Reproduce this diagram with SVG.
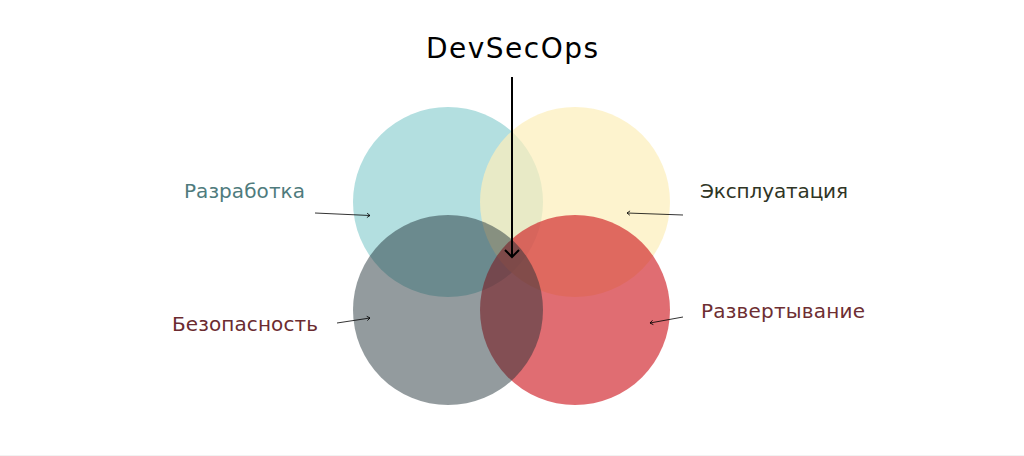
<svg xmlns="http://www.w3.org/2000/svg" width="1024" height="456" viewBox="0 0 1024 456">
<style>
.lbl{font-family:"DejaVu Sans","Liberation Sans",sans-serif;font-size:20px}
.conn{fill:none;stroke:#000;stroke-width:0.8}
.main{fill:none;stroke:#000;stroke-width:2}
</style>
<defs>
<marker id="big" markerUnits="userSpaceOnUse" orient="auto" refX="0" refY="0" markerWidth="20" markerHeight="20" viewBox="-10 -10 20 20" overflow="visible">
<path d="M-7,-7 L0,0 L-7,7" fill="none" stroke="#000" stroke-width="2"/>
</marker>
<marker id="small" markerUnits="userSpaceOnUse" orient="auto" refX="0" refY="0" markerWidth="8" markerHeight="8" viewBox="-4 -4 8 8" overflow="visible">
<path d="M-3,-2.2 L0,0 L-3,2.2" fill="none" stroke="#000" stroke-width="0.8"/>
</marker>
</defs>
<rect x="0" y="0" width="1024" height="456" fill="#ffffff"/>
<rect x="0" y="455" width="1024" height="1" fill="#f2f2f2"/>
<g id="node-dev"><circle cx="448" cy="202" r="95" fill="#b3dfe0"/></g>
<g id="node-ops"><circle cx="575" cy="202" r="95" fill="#fceebb" fill-opacity="0.72"/></g>
<g id="node-deploy"><circle cx="575" cy="310" r="95" fill="#cd141c" fill-opacity="0.62"/></g>
<g id="node-sec"><circle cx="448" cy="310" r="95" fill="#1e2d35" fill-opacity="0.48"/></g>
<g id="title"><text x="512" y="58" text-anchor="middle" font-family="'DejaVu Sans','Liberation Sans',sans-serif" font-size="28" fill="#000" textLength="172">DevSecOps</text></g>
<g id="label-dev"><text class="lbl" x="184" y="198" fill="#4f7b7d" textLength="121">Разработка</text></g>
<g id="label-ops"><text class="lbl" x="700" y="198" fill="#2f3525" textLength="148">Эксплуатация</text></g>
<g id="label-sec"><text class="lbl" x="172" y="331" fill="#6b2b30" textLength="146">Безопасность</text></g>
<g id="label-deploy"><text class="lbl" x="701" y="318" fill="#6e2e32" textLength="164">Развертывание</text></g>
<g id="connectors">
<line class="main" x1="512" y1="77" x2="512" y2="257" marker-end="url(#big)"/>
<line class="conn" x1="315" y1="213" x2="370" y2="215.5" marker-end="url(#small)"/>
<line class="conn" x1="337" y1="323" x2="370" y2="318" marker-end="url(#small)"/>
<line class="conn" x1="683" y1="215" x2="627" y2="213" marker-end="url(#small)"/>
<line class="conn" x1="683" y1="317" x2="650" y2="323" marker-end="url(#small)"/>
</g>
</svg>
